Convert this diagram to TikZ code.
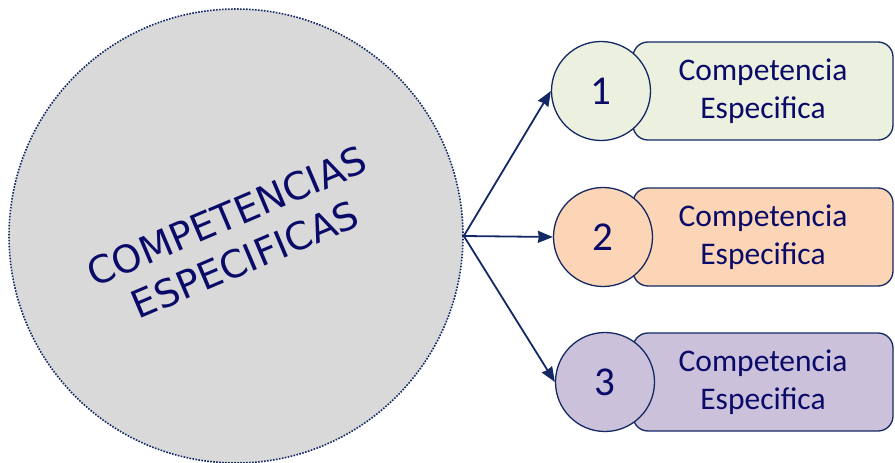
\documentclass[tikz,border=0pt]{standalone}
\usepackage{fontspec}
\setmainfont{Carlito}
\newfontfamily\titlefont{DejaVu Sans}
\usetikzlibrary{shapes.geometric, arrows.meta}
\definecolor{navytext}{RGB}{10,10,105}
\definecolor{navyline}{RGB}{20,40,100}
\definecolor{greenfill}{HTML}{EBF1DE}
\definecolor{peachfill}{HTML}{FBD5B5}
\definecolor{lilacfill}{HTML}{CCC1DA}
\definecolor{grayfill}{HTML}{D9D9D9}
\tikzstyle{bigcircle} = [circle, minimum size=454pt, inner sep=0pt, draw=navyline, line width=1.6pt, dash pattern=on 1.6pt off 1.4pt, fill=grayfill]
\tikzstyle{title} = [text=navytext, font=\titlefont\fontsize{38}{47}\selectfont, align=center, rotate=23]
\tikzstyle{numcircle} = [circle, minimum size=99pt, inner sep=0pt, draw=navyline, line width=1.3pt, text=navytext, font=\fontsize{41}{41}\selectfont]
\tikzstyle{compbox} = [rectangle, rounded corners=15pt, minimum width=260pt, minimum height=98pt, draw=navyline, line width=1.3pt, text=navytext, align=center, font=\fontsize{31.5}{37.5}\selectfont]
\tikzstyle{arrow} = [line width=1.8pt, draw=navyline, ->, >={Stealth[length=15pt, width=12pt, inset=1pt]}]

\begin{document}
\begin{tikzpicture}[x=1pt, y=-1pt]
		\useasboundingbox (0,0) rectangle (895,463);
		\node (main) [bigcircle] at (236,236) {};
		\node (maintitle) [title] at ([yshift=-2pt]main.center) {COMPETENCIAS\\ESPECIFICAS};
		\node (comp1) [compbox, fill=greenfill] at (763,91) {Competencia\\Especifica};
		\node (comp2) [compbox, fill=peachfill] at (763,237) {Competencia\\Especifica};
		\node (comp3) [compbox, fill=lilacfill] at (763,382) {Competencia\\Especifica};
		\node (num1) [numcircle, fill=greenfill] at ([xshift=-162pt]comp1.center) {1};
		\node (num2) [numcircle, fill=peachfill] at ([xshift=-160pt]comp2.center) {2};
		\node (num3) [numcircle, fill=lilacfill] at ([xshift=-158pt]comp3.center) {3};
		\draw [arrow] (main.east) -- (num1.west);
		\draw [arrow] (main.east) -- (num2.west);
		\draw [arrow] (main.east) -- (num3.west);
	\end{tikzpicture}
\end{document}
